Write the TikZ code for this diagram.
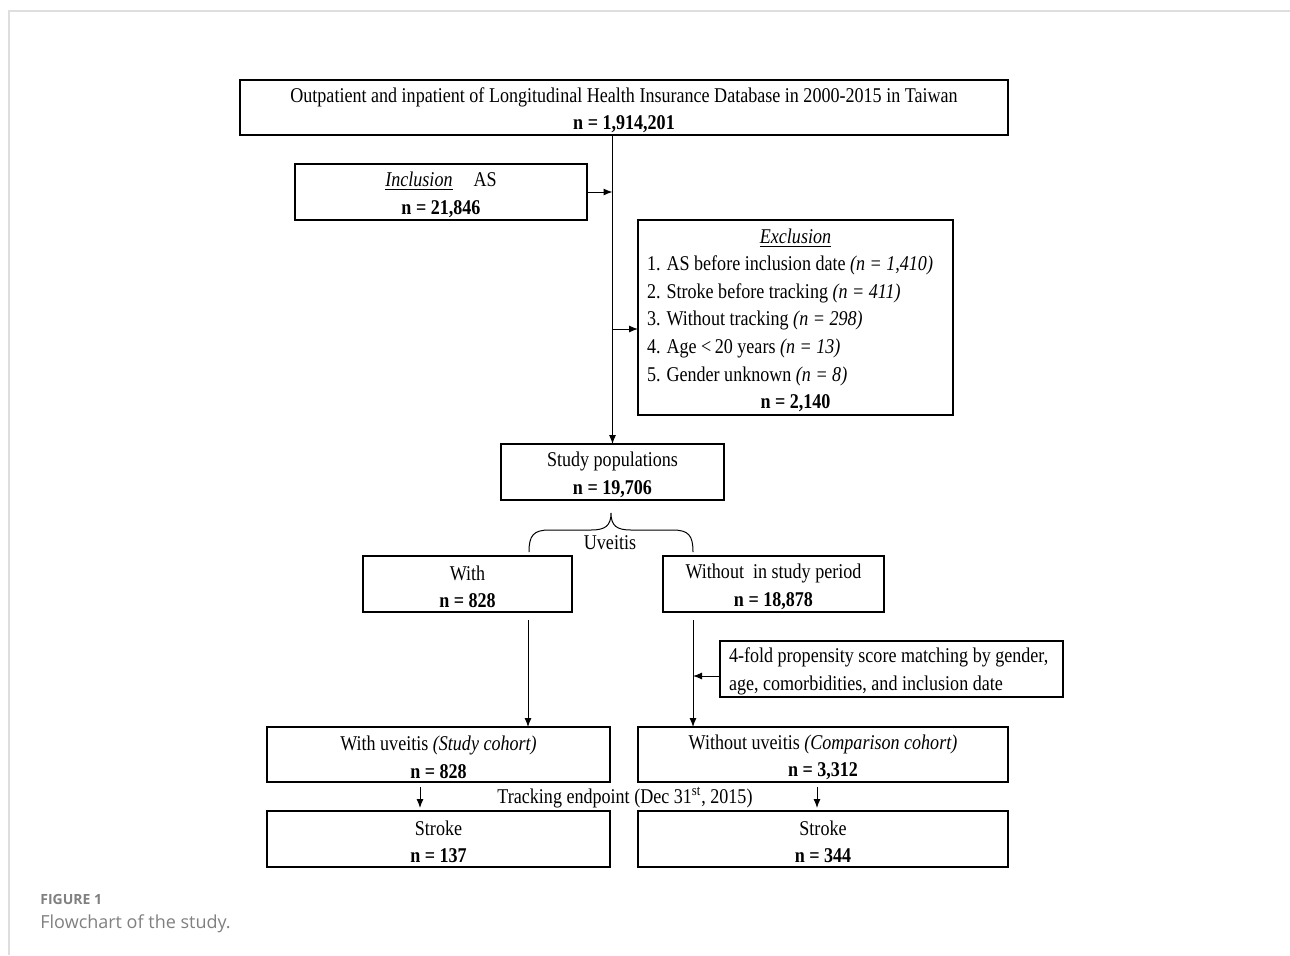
\documentclass[tikz,border=0pt]{standalone}
\usepackage{fontspec}
\setmainfont{Liberation Serif}[FakeStretch=0.86]
\newfontfamily\capfont{Open Sans}
\usetikzlibrary{arrows.meta}
\newcommand\up{\rule{0pt}{10pt}}
\tikzset{
  box/.style={draw, line width=0.6pt, inner sep=0pt, outer sep=0pt, align=center,
    font=\fontsize{10.5}{13.8}\selectfont},
  lbox/.style={box, inner xsep=4.5pt, align=flush left, execute at begin node={\up}},
  lbl/.style={inner sep=0pt, font=\fontsize{10.5}{13.8}\selectfont},
  arr/.style={line width=0.5pt, -{Latex[length=4.5pt,width=3.5pt]}},
}

\begin{document}
\begin{tikzpicture}[x=0.5pt,y=-0.5pt]
  \useasboundingbox (0,0) rectangle (1290,955);
  % page frame
  \draw[black!13, line width=0.75pt] (1290,11) -- (9,11) -- (9,955);

  % database and selection
  \node[box, minimum width=384pt, minimum height=27.5pt] (db) at (624,107.5)
    {\up Outpatient and inpatient of Longitudinal Health Insurance Database in 2000-2015 in Taiwan\\
     \textbf{n = 1,914,201}};
  \node[box, minimum width=146pt, minimum height=28pt] (incl) at (441,192)
    {\up\underline{\textit{Inclusion}}\quad AS\\ \textbf{n = 21,846}};
  \node[lbox, minimum width=157.5pt, minimum height=97.5pt, text width=148.5pt] (excl) at (795.5,317.5)
    {\makebox[148.5pt]{\underline{\textit{Exclusion}}}\\
     \mbox{1. AS before inclusion date \textit{(n = 1,410)}}\\
     \mbox{2. Stroke before tracking \textit{(n = 411)}}\\
     \mbox{3. Without tracking \textit{(n = 298)}}\\
     \mbox{4. Age <\,20 years \textit{(n = 13)}}\\
     \mbox{5. Gender unknown \textit{(n = 8)}}\\
     \makebox[148.5pt]{\textbf{n = 2,140}}};
  \node[box, minimum width=111.5pt, minimum height=28pt] (study) at (612.5,472)
    {\up Study populations\\ \textbf{n = 19,706}};

  % uveitis split
  \node[box, minimum width=104.5pt, minimum height=28pt] (with) at (467.5,584)
    {\up With\\ \textbf{n = 828}};
  \node[box, minimum width=110.5pt, minimum height=28pt] (without) at (773.5,584)
    {\up Without\ \ in study period\\ \textbf{n = 18,878}};
  \node[lbl] (uv) at (610,543) {Uveitis};
  \node[lbox, minimum width=171.5pt, minimum height=28pt, text width=162.5pt] (match) at (891.5,669)
    {\mbox{4-fold propensity score matching by gender,}\\
     \mbox{age, comorbidities, and inclusion date}};

  % cohorts and outcome
  \node[box, minimum width=171.5pt, minimum height=27.5pt] (coh1) at (438.5,754.5)
    {\up With uveitis \textit{(Study cohort)}\\ \textbf{n = 828}};
  \node[box, minimum width=185pt, minimum height=27.5pt] (coh2) at (823,754.5)
    {\up Without uveitis \textit{(Comparison cohort)}\\ \textbf{n = 3,312}};
  \node[lbl] (track) at (625,798) {Tracking endpoint (Dec 31\textsuperscript{st}, 2015)};
  \node[box, minimum width=171.5pt, minimum height=28pt] (str1) at (438.5,839)
    {\up Stroke\\ \textbf{n = 137}};
  \node[box, minimum width=185pt, minimum height=28pt] (str2) at (823,839)
    {\up Stroke\\ \textbf{n = 344}};

  % caption
  \node[anchor=base west, inner sep=0pt, text=black!50,
        font=\capfont\bfseries\fontsize{7}{8}\selectfont] (fig) at (40,904) {FIGURE 1};
  \node[anchor=base west, inner sep=0pt, text=black!50,
        font=\capfont\fontsize{9}{10}\selectfont] (cap) at (40,928) {Flowchart of the study.};

  % connectors
  \coordinate (wl) at (528,620);
  \coordinate (wr) at (693,620);
  \draw[arr] (db.south -| study.north) -- (study.north);
  \draw[arr] (incl.east) -- (incl.east -| study.north);
  \draw[arr] ([yshift=-5.75pt]excl.west -| study.north) -- ([yshift=-5.75pt]excl.west);
  \draw[line width=0.5pt] (529,552) .. controls (529,536) and (533,530) .. (549,530)
    -- (591,530) .. controls (605,530) and (611,526) .. (611,513)
    .. controls (611,526) and (617,530) .. (631,530) -- (673,530)
    .. controls (689,530) and (693,536) .. (693,552);
  \draw[arr] (wl) -- (wl |- coh1.north);
  \draw[arr] (wr) -- (wr |- coh2.north);
  \draw[arr] ([yshift=-3.5pt]match.west) -- ([yshift=-3.5pt]match.west -| wr);
  \draw[arr, shorten <=2.5pt, shorten >=1.5pt] ([xshift=-9.25pt]coh1.south) -- ([xshift=-9.25pt]str1.north);
  \draw[arr, shorten <=2.5pt, shorten >=1.5pt] ([xshift=-3pt]coh2.south) -- ([xshift=-3pt]str2.north);
\end{tikzpicture}
\end{document}
